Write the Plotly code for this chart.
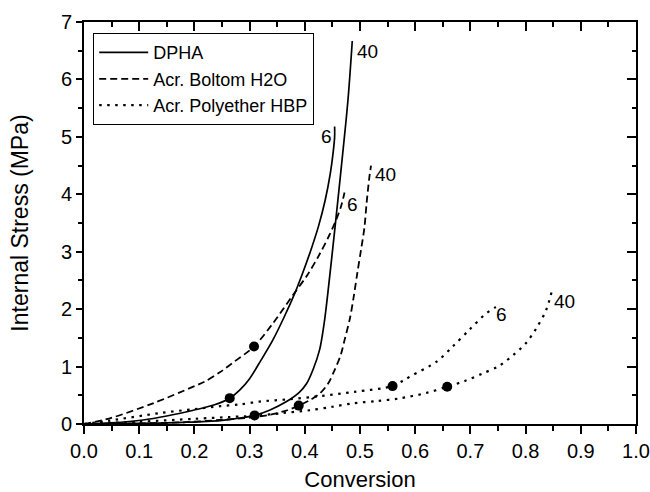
import plotly.graph_objects as go

# ---- data ----
dpha6_x = [0, 0.05, 0.107, 0.15, 0.198, 0.235, 0.264, 0.282, 0.300, 0.32, 0.342, 0.362, 0.382, 0.395, 0.41, 0.425, 0.437, 0.446, 0.451, 0.454, 0.454]
dpha6_y = [0, 0.02, 0.07, 0.14, 0.24, 0.33, 0.45, 0.59, 0.79, 1.10, 1.46, 1.85, 2.28, 2.60, 3.00, 3.45, 3.90, 4.35, 4.70, 5.00, 5.18]

dpha40_x = [0, 0.10, 0.18, 0.246, 0.280, 0.309, 0.336, 0.367, 0.390, 0.403, 0.415, 0.427, 0.435, 0.442, 0.454, 0.466, 0.478, 0.486]
dpha40_y = [0, 0.01, 0.03, 0.06, 0.10, 0.15, 0.24, 0.39, 0.55, 0.70, 0.95, 1.30, 1.75, 2.30, 3.36, 4.46, 5.62, 6.67]

bolt6_x = [0, 0.047, 0.125, 0.198, 0.219, 0.246, 0.270, 0.308, 0.342, 0.376, 0.405, 0.427, 0.445, 0.457, 0.466, 0.472]
bolt6_y = [0, 0.10, 0.36, 0.65, 0.74, 0.90, 1.07, 1.35, 1.75, 2.21, 2.60, 2.96, 3.30, 3.56, 3.80, 4.03]

bolt40_x = [0, 0.10, 0.18, 0.246, 0.30, 0.336, 0.365, 0.389, 0.41, 0.427, 0.442, 0.454, 0.465, 0.472, 0.482, 0.489, 0.495, 0.502, 0.508, 0.512, 0.517, 0.520]
bolt40_y = [0, 0.01, 0.03, 0.07, 0.11, 0.16, 0.23, 0.32, 0.42, 0.53, 0.70, 0.94, 1.20, 1.46, 1.85, 2.24, 2.62, 3.04, 3.42, 3.85, 4.30, 4.50]

hbp6_x = [0, 0.047, 0.137, 0.20, 0.246, 0.282, 0.318, 0.37, 0.427, 0.49, 0.559, 0.577, 0.595, 0.638, 0.668, 0.698, 0.728, 0.745, 0.755]
hbp6_y = [0, 0.06, 0.19, 0.26, 0.31, 0.34, 0.39, 0.43, 0.485, 0.56, 0.66, 0.75, 0.85, 1.08, 1.35, 1.64, 1.92, 2.03, 2.09]

hbp40_x = [0, 0.10, 0.20, 0.282, 0.306, 0.36, 0.409, 0.45, 0.487, 0.53, 0.571, 0.62, 0.658, 0.69, 0.722, 0.75, 0.77, 0.80, 0.819, 0.837, 0.848]
hbp40_y = [0, 0.04, 0.09, 0.13, 0.14, 0.19, 0.24, 0.30, 0.36, 0.40, 0.445, 0.54, 0.65, 0.75, 0.88, 1.00, 1.14, 1.40, 1.66, 1.98, 2.33]

marker_x = [0.264, 0.309, 0.308, 0.389, 0.559, 0.658]
marker_y = [0.45, 0.15, 1.35, 0.32, 0.66, 0.65]

label_text = ["40", "6", "6", "40", "6", "40"]
label_x = [0.514, 0.439, 0.486, 0.547, 0.757, 0.870]
label_y = [6.49, 5.01, 3.82, 4.34, 1.90, 2.14]

x_ticks = [0.0, 0.1, 0.2, 0.3, 0.4, 0.5, 0.6, 0.7, 0.8, 0.9, 1.0]
y_ticks = [0, 1, 2, 3, 4, 5, 6, 7]

FONT = "Liberation Sans, Arial, sans-serif"

fig = go.Figure()

curves = [
    (dpha6_x, dpha6_y, "DPHA", "solid", 1.7, True),
    (dpha40_x, dpha40_y, "DPHA", "solid", 1.7, False),
    (bolt6_x, bolt6_y, "Acr. Boltom H2O", "7px,4px", 1.8, True),
    (bolt40_x, bolt40_y, "Acr. Boltom H2O", "7px,4px", 1.8, False),
    (hbp6_x, hbp6_y, "Acr. Polyether HBP", "2.5px,5.5px", 2.2, True),
    (hbp40_x, hbp40_y, "Acr. Polyether HBP", "2.5px,5.5px", 2.2, False),
]
for xs, ys, name, dash, w, show in curves:
    fig.add_trace(go.Scatter(
        x=xs, y=ys, mode="lines", name=name, showlegend=show, legendgroup=name,
        line=dict(color="black", width=w, dash=dash, shape="spline", smoothing=0.9),
        hoverinfo="skip"))

fig.add_trace(go.Scatter(
    x=marker_x, y=marker_y, mode="markers", showlegend=False,
    marker=dict(color="black", size=10), hoverinfo="skip"))

# helper overlay axes for inward top/right ticks
fig.add_trace(go.Scatter(x=[], y=[], xaxis="x2", yaxis="y2", showlegend=False, hoverinfo="skip"))

for t, xx, yy in zip(label_text, label_x, label_y):
    fig.add_annotation(x=xx, y=yy, text=t, showarrow=False,
                       font=dict(family=FONT, size=19, color="black"),
                       xanchor="center", yanchor="middle")

axis_common = dict(showgrid=False, zeroline=False, showline=True,
                   linecolor="black", linewidth=1.6, tickcolor="black",
                   tickwidth=1.5, automargin=False)

fig.update_layout(
    width=650, height=492,
    margin=dict(l=84, r=14, t=22, b=68),
    paper_bgcolor="white", plot_bgcolor="white",
    font=dict(family=FONT, size=20, color="black"),
    xaxis=dict(range=[0, 1.0], tickvals=x_ticks,
               ticktext=[f"{v:.1f}" for v in x_ticks],
               ticks="outside", ticklen=8,
               minor=dict(dtick=0.05, tick0=0, ticks="outside", ticklen=5,
                          tickcolor="black", tickwidth=1.5),
               title=dict(text="Conversion", font=dict(size=22), standoff=19),
               tickfont=dict(size=20), **axis_common),
    yaxis=dict(range=[0, 7], tickvals=y_ticks,
               ticks="outside", ticklen=6,
               minor=dict(dtick=0.5, tick0=0, ticks="outside", ticklen=4,
                          tickcolor="black", tickwidth=1.5),
               title=dict(text="Internal Stress (MPa)", font=dict(size=23), standoff=26),
               tickfont=dict(size=20), **axis_common),
    xaxis2=dict(range=[0, 1.0], overlaying="x", side="top", anchor="y2",
                tickvals=x_ticks, ticks="inside", ticklen=9, showticklabels=False,
                minor=dict(dtick=0.05, tick0=0, ticks="inside", ticklen=5,
                           tickcolor="black", tickwidth=1.5),
                **axis_common),
    yaxis2=dict(range=[0, 7], overlaying="y", side="right", anchor="x2",
                tickvals=y_ticks, ticks="inside", ticklen=9, showticklabels=False,
                minor=dict(dtick=0.5, tick0=0, ticks="inside", ticklen=4,
                           tickcolor="black", tickwidth=1.5),
                **axis_common),
    legend=dict(x=0.0163, y=0.9726, xanchor="left", yanchor="top",
                bgcolor="white", bordercolor="black", borderwidth=1.2,
                font=dict(family=FONT, size=18, color="black"),
                itemwidth=49, tracegroupgap=0),
    showlegend=True,
)

fig.write_html("out.html")
